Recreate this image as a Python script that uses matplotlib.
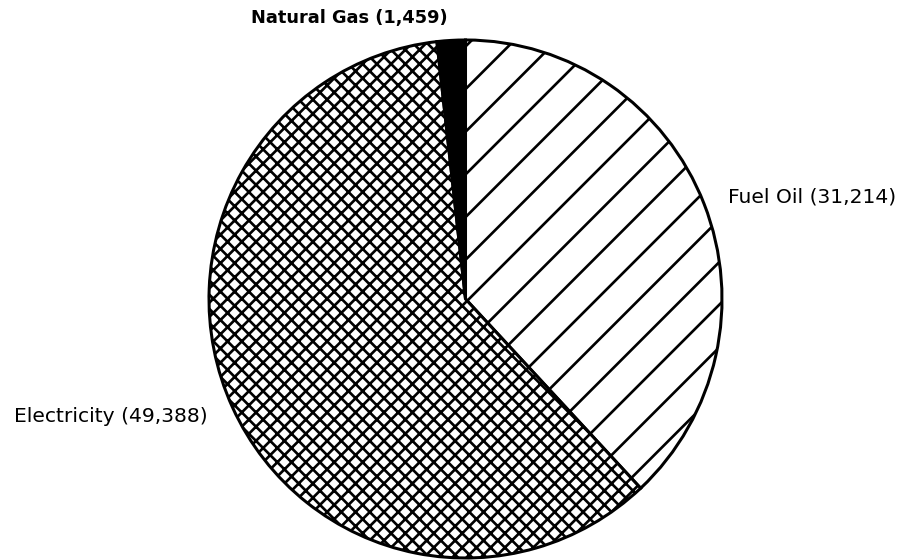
import numpy as np
import matplotlib.pyplot as plt

# energy use by fuel type
fuels = ['Fuel Oil', 'Electricity', 'Natural Gas']
amounts = [31214, 49388, 1459]
hatches = ['/', 'xxx', '']
colors = ['white', 'white', 'black']

# hatch spacing in agg scales with dpi, so pick dpi to get the scanned look
DPI = 128
W, H = 909, 560

plt.rcParams['hatch.linewidth'] = 1.5
plt.rcParams['font.family'] = ['DejaVu Sans']

fig = plt.figure(figsize=(W / DPI, H / DPI), dpi=DPI)
fig.patch.set_facecolor('white')

# pie box in pixels: centre (465.5, 299), radius ~257
cx, cy, rx, ry = 465.5, 299, 256.5, 259
ax = fig.add_axes([(cx - rx) / W, (H - cy - ry) / H, 2 * rx / W, 2 * ry / H])

wedges, _ = ax.pie(amounts, startangle=90, counterclock=False, colors=colors,
                   wedgeprops=dict(edgecolor='black', linewidth=1.7))
for w, h in zip(wedges, hatches):
    w.set_hatch(h)
ax.set_aspect('auto')
ax.set_xlim(-1, 1)
ax.set_ylim(-1, 1)
ax.axis('off')

labels = [f'{f} ({a:,})' for f, a in zip(fuels, amounts)]


def px(x, y):
    return x / W, 1 - y / H


fig.text(*px(728, 197), labels[0], ha='left', va='center', fontsize=11.4)
fig.text(*px(208, 416), labels[1], ha='right', va='center', fontsize=11.4)
fig.text(*px(448, 18), labels[2], ha='right', va='center', fontsize=10,
         fontweight='bold')

fig.savefig('out.png', dpi=DPI, facecolor='white')
